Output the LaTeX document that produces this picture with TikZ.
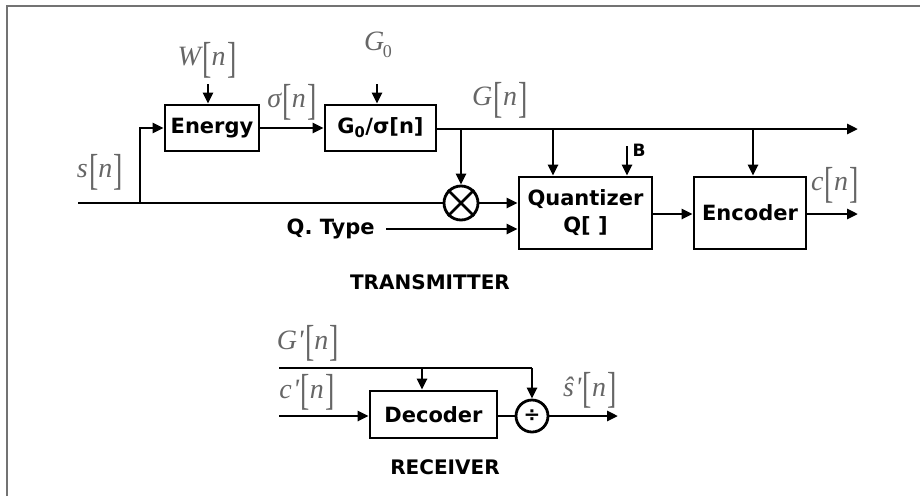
\documentclass[tikz,border=0pt]{standalone}
\usepackage{fontspec}
\setmainfont{DejaVu Sans}
\newfontfamily\lblfont{Liberation Serif}
\usetikzlibrary{arrows.meta}
\newcommand{\sqb}[1]{\raisebox{-0.22em}{\scalebox{1}[1.55]{\upshape #1}}}
\newcommand{\sig}[1]{#1\kern0.05em\sqb{[}n\kern0.05em\sqb{]}}
\begin{document}
\begin{tikzpicture}[x=1pt,y=-1pt,
  box/.style={draw, line width=2.8pt, inner sep=0pt, font=\bfseries\fontsize{21}{27}\selectfont, align=center},
  wire/.style={line width=2.8pt},
  arr/.style={wire, -{Triangle[length=11pt,width=10pt]}},
  lbl/.style={font=\lblfont\itshape\fontsize{28}{30}\selectfont, text=black!60, inner sep=0pt},
  captxt/.style={font=\bfseries\fontsize{20}{22}\selectfont, inner sep=0pt},
  junc/.style={draw, circle, line width=2.8pt, inner sep=0pt}]
\useasboundingbox (0,0) rectangle (920,496);
\draw[black!55, line width=2.2pt] (7,496) -- (7,6) -- (920,6);

% transmitter blocks
\node[box, minimum width=94pt, minimum height=46pt] (energy) at (212,128) {Energy};
\node[box, minimum width=111pt, minimum height=46pt] (gdiv) at (380.5,128) {G\textsubscript{0}/σ[n]};
\node[box, minimum width=133pt, minimum height=72pt] (quant) at (585.5,213) {Quantizer\\Q[ ]};
\node[box, minimum width=112pt, minimum height=72pt] (enc) at (750,213) {Encoder};
\node[junc, minimum size=34pt] (mult) at (461,203) {};
\draw[wire] (mult.north east) -- (mult.south west);
\draw[wire] (mult.north west) -- (mult.south east);

% labels
\node[lbl] (W) at (207,60) {\sig{W}};
\node[lbl] (G0) at (378,45) {G\kern-0.05em\raisebox{-0.25em}{\upshape\fontsize{18}{20}\selectfont 0}};
\node[lbl] (sg) at (292,102) {\sig{σ}};
\node[lbl] (Gn) at (500,100) {\sig{G}};
\node[lbl] (sn) at (100,172) {\sig{s}};
\node[lbl] (cn) at (835,185) {\sig{c}};
\node[captxt, font=\bfseries\fontsize{17}{18}\selectfont] (B) at (639,150) {B};
\node[box, draw=none, anchor=east] (qt) at (376,229) {Q. Type};
\node[captxt] (tx) at (430,282) {TRANSMITTER};

% coordinates
\coordinate (sin) at (78,203);
\coordinate (sbr) at (140,203);
\coordinate (wtop) at (208,84);
\coordinate (g0top) at (377,84);
\coordinate (gout) at (858,129);
\coordinate (b1) at (461,129);
\coordinate (b2) at (553,129);
\coordinate (b3) at (753,129);
\coordinate (btop) at (627,146);
\coordinate (qts) at (386,229);
\coordinate (cout) at (858,214);

% connectors
\draw[wire] (sin) -- (mult.west);
\draw[arr] (sbr) |- (energy.west);
\draw[arr] (wtop) -- (wtop |- energy.north);
\draw[arr] (energy.east) -- (gdiv.west);
\draw[arr] (g0top) -- (g0top |- gdiv.north);
\draw[arr] (gdiv.east |- gout) -- (gout);
\draw[arr] (b1) -- (mult.north);
\draw[arr] (b2) -- (b2 |- quant.north);
\draw[arr] (b3) -- (b3 |- enc.north);
\draw[arr] (btop) -- (btop |- quant.north);
\draw[arr] (mult.east) -- (mult.east -| quant.west);
\draw[arr] (qts) -- (qts -| quant.west);
\draw[arr] (quant.east |- cout) -- (enc.west |- cout);
\draw[arr] (enc.east |- cout) -- (cout);

% receiver
\node[box, minimum width=127pt, minimum height=47pt] (dec) at (433.5,414.5) {Decoder};
\node[junc, minimum size=32pt, font=\bfseries\fontsize{20}{20}\selectfont] (div) at (532,416) {÷};
\node[lbl] (Gp) at (308,343) {\sig{G\kern0.02em'}};
\node[lbl] (cp) at (307,392) {\sig{c\kern0.05em'}};
\node[lbl] (sh) at (590,390) {\sig{ŝ\kern0.05em'}};
\node[captxt] (rx) at (445,467) {RECEIVER};

\coordinate (gpin) at (279,368);
\coordinate (gpc) at (532,368);
\coordinate (gpb) at (422,368);
\coordinate (cpin) at (279,416);
\coordinate (sout) at (618,416);

\draw[wire] (gpin) -- (gpc);
\draw[arr] (gpc) -- (div.north);
\draw[arr] (gpb) -- (gpb |- dec.north);
\draw[arr] (cpin) -- (cpin -| dec.west);
\draw[wire] (dec.east |- div) -- (div.west);
\draw[arr] (div.east) -- (sout);
\end{tikzpicture}
\end{document}
